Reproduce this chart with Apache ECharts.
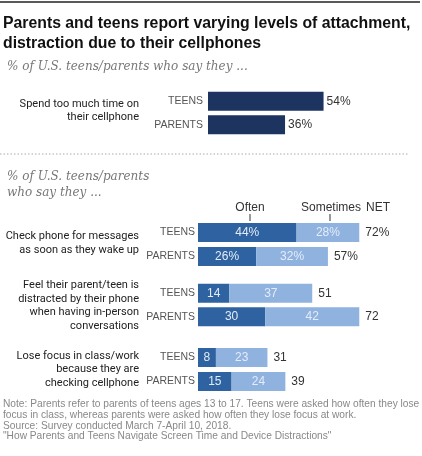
<!DOCTYPE html>
<html><head><meta charset="utf-8">
<script src="https://cdn.jsdelivr.net/npm/echarts@6/dist/echarts.min.js"></script>
<style>html,body{margin:0;padding:0;background:#fff}#c{width:422px;height:456px}</style>
</head><body><div id="c"></div>
<script>
// ---- data ----
const rowLabels = ['TEENS', 'PARENTS'];
const tooMuchLabel = 'Spend too much time on\ntheir cellphone';
const tooMuch = [54, 36];
const groupLabels = [
  'Check phone for messages\nas soon as they wake up',
  'Feel their parent/teen is\ndistracted by their phone\nwhen having in-person\nconversations',
  'Lose focus in class/work\nbecause they are\nchecking cellphone'
];
const oftenTeens = [44, 14, 8];
const oftenParents = [26, 30, 15];
const sometimesTeens = [28, 37, 23];
const sometimesParents = [32, 42, 24];
const netTeens = [72, 51, 31];
const netParents = [57, 72, 39];
const pctGroup = 0; // first group shows % signs

// ---- layout ----
const grids = [
  {left: 208, width: 226, top: 89.5, height: 47},
  {left: 198, width: 226, top: 220.5, height: 48},
  {left: 198, width: 226, top: 281.5, height: 47},
  {left: 198, width: 226, top: 345.5, height: 48}
];
const labelCenters = [110.5, 243, 305.5, 369.5];
const FONT = '"Liberation Sans", Arial, sans-serif';
const CAT = 'Roboto, "Liberation Sans", Arial, sans-serif';
const NARROW = '"Liberation Sans Narrow", "Liberation Sans", Arial, sans-serif';
const SERIF = '"DejaVu Serif", "Liberation Serif", serif';
const cNavy = '#1d3461', cOften = '#2e62a0', cSome = '#8fb2df', inLbl = '#e4ecf8';

const xAxes = grids.map((g, i) => ({gridIndex: i, type: 'value', min: 0, max: 100, show: false}));
const yAxes = grids.map((g, i) => ({
  gridIndex: i, type: 'category', data: rowLabels, inverse: true,
  axisLine: {show: false}, axisTick: {show: false},
  axisLabel: {color: '#555', fontSize: 10.5, fontFamily: FONT, margin: i === 0 ? 5 : 3}
}));

const series = [{
  type: 'bar', xAxisIndex: 0, yAxisIndex: 0, data: tooMuch, barWidth: 19,
  itemStyle: {color: cNavy},
  label: {show: true, position: 'right', distance: 3, formatter: '{c}%', color: '#333', fontSize: 12, fontFamily: FONT}
}];
for (let k = 0; k < 3; k++) {
  const gi = k + 1, suf = k === pctGroup ? '%' : '';
  series.push({
    type: 'bar', xAxisIndex: gi, yAxisIndex: gi, stack: 's' + k, barWidth: 19,
    data: [oftenTeens[k], oftenParents[k]], itemStyle: {color: cOften},
    label: {show: true, position: 'inside', formatter: p => p.value + suf, color: inLbl, fontSize: 12, fontFamily: FONT}
  });
  series.push({
    type: 'bar', xAxisIndex: gi, yAxisIndex: gi, stack: 's' + k, barWidth: 19,
    data: [sometimesTeens[k], sometimesParents[k]], itemStyle: {color: cSome},
    label: {show: true, position: 'inside', formatter: p => p.value + suf, color: inLbl, fontSize: 12, fontFamily: FONT}
  });
  const nets = [netTeens[k], netParents[k]];
  series.push({
    type: 'bar', xAxisIndex: gi, yAxisIndex: gi, stack: 's' + k, barWidth: 19,
    data: [0, 0], itemStyle: {color: 'rgba(0,0,0,0)'},
    label: {show: true, position: 'right', distance: 6, formatter: p => nets[p.dataIndex] + suf, color: '#333', fontSize: 12, fontFamily: FONT}
  });
}

const graphic = [
  {type: 'line', shape: {x1: 0, y1: 2, x2: 420, y2: 2}, style: {stroke: '#222', lineWidth: 1.5}},
  {type: 'text', left: 3, top: 14, style: {text: 'Parents and teens report varying levels of attachment,\ndistraction due to their cellphones', fill: '#111', font: 'bold 15.8px ' + FONT, lineHeight: 20}},
  {type: 'text', x: 7, y: 67, style: {text: '% of U.S. teens/parents who say they ...', fill: '#777', font: 'italic 12px ' + SERIF, textVerticalAlign: 'middle'}},
  {type: 'line', shape: {x1: 0, y1: 154, x2: 408, y2: 154}, style: {stroke: '#aaa', lineWidth: 1, lineDash: [1.5, 2]}},
  {type: 'text', x: 7, y: 185, style: {text: '% of U.S. teens/parents\nwho say they ...', fill: '#777', font: 'italic 12px ' + SERIF, lineHeight: 16, textVerticalAlign: 'middle'}},
  {type: 'text', x: 250, y: 208, style: {text: 'Often', fill: '#333', font: '12px ' + FONT, textAlign: 'center', textVerticalAlign: 'middle'}},
  {type: 'text', x: 331, y: 208, style: {text: 'Sometimes', fill: '#333', font: '12px ' + FONT, textAlign: 'center', textVerticalAlign: 'middle'}},
  {type: 'text', x: 378, y: 208, style: {text: 'NET', fill: '#333', font: '12px ' + FONT, textAlign: 'center', textVerticalAlign: 'middle'}},
  {type: 'line', shape: {x1: 250, y1: 214, x2: 250, y2: 221}, style: {stroke: '#333', lineWidth: 1}},
  {type: 'line', shape: {x1: 330, y1: 214, x2: 330, y2: 221}, style: {stroke: '#333', lineWidth: 1}},
  {type: 'text', x: 3, y: 420.5, style: {text: 'Note: Parents refer to parents of teens ages 13 to 17. Teens were asked how often they lose\nfocus in class, whereas parents were asked how often they lose focus at work.\nSource: Survey conducted March 7-April 10, 2018.\n"How Parents and Teens Navigate Screen Time and Device Distractions"', fill: '#888', font: '10.2px ' + NARROW, lineHeight: 10.7, textVerticalAlign: 'middle'}}
];
const catTexts = [tooMuchLabel].concat(groupLabels);
catTexts.forEach((t, i) => {
  graphic.push({type: 'text', x: 139, y: labelCenters[i], style: {text: t, fill: '#222', font: '11px ' + CAT, textAlign: 'right', textVerticalAlign: 'middle', lineHeight: 13.5}});
});

const chart = echarts.init(document.getElementById('c'), null, {renderer: 'canvas'});
chart.setOption({
  animation: false,
  grid: grids.map(g => Object.assign({containLabel: false}, g)),
  xAxis: xAxes, yAxis: yAxes, series: series, graphic: graphic
});
</script></body></html>
